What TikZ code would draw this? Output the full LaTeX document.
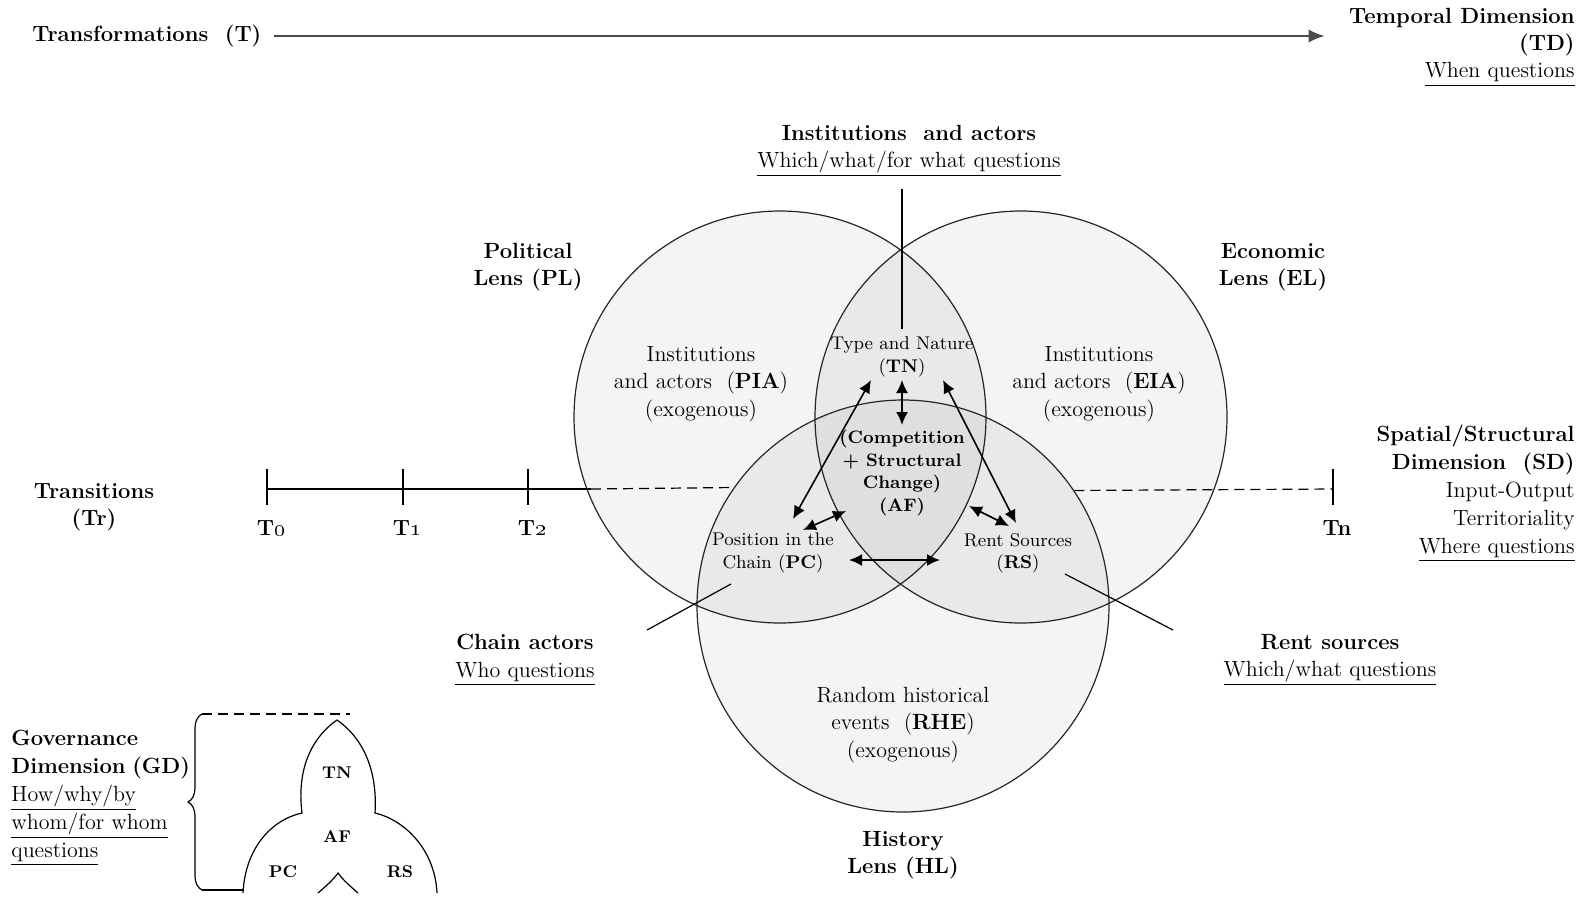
\documentclass[tikz,border=0pt]{standalone}
\usetikzlibrary{arrows.meta,calc,decorations.pathreplacing}
\begin{document}
\begin{tikzpicture}
[x=0.5pt,y=-0.5pt,
  lensdecorate/.style={shape=circle,draw=black!85,line width=0.6pt,fill=black,
    fill opacity=0.045,minimum size=206pt,inner sep=0pt},
  titledecorate/.style={font=\fontsize{11}{13.7}\selectfont\bfseries,align=center,inner sep=1pt},
  textdecorate/.style={font=\fontsize{11}{13.7}\selectfont,align=center,inner sep=1pt},
  sidedecorate/.style={font=\fontsize{11}{14}\selectfont,inner sep=1pt},
  smalldecorate/.style={font=\fontsize{9.2}{11.2}\selectfont,align=center,inner sep=1pt},
  tinydecorate/.style={font=\fontsize{8.5}{10}\selectfont\bfseries,inner sep=1pt},
  linedecorate/.style={-,line width=0.6pt},
  dashdecorate/.style={-,line width=0.6pt,dash pattern=on 5pt off 3pt},
  arrowdecorate/.style={{Latex[length=6.5pt,width=6pt]}-{Latex[length=6.5pt,width=6pt]},line width=0.8pt},
  timedecorate/.style={-{Latex[length=8pt,width=6.5pt]},line width=1pt,draw=black!70}]
\useasboundingbox (0,0) rectangle (1593,896);
%% lenses
\foreach \lensname/\x/\y in {pl/780/417, el/1021/417, hl/903/606}
{
  \node (\lensname) at (\x,\y) [lensdecorate] {};
}
%% temporal dimension
\node (trans) at (30,36) [titledecorate,anchor=west] {Transformations\ \ (T)};
\node (td) at (1577,47) [textdecorate,align=right,anchor=east]
  {\textbf{Temporal Dimension}\\\textbf{(TD)}\\\underline{When questions}};
\draw [timedecorate,shorten <=5pt,shorten >=11pt] (trans.east) -- (trans.east -| td.west);
%% lens titles
\node (polit) at (528,267) [titledecorate] {Political\\Lens (PL)};
\node (econ) at (1273,267) [titledecorate] {Economic\\Lens (EL)};
\node (hist) at (903,855) [titledecorate] {History\\Lens (HL)};
\node (ia) at (909,151) [textdecorate]
  {\textbf{Institutions\ \ and actors}\\\underline{Which/what/for what questions}};
\node (chain) at (525,660) [textdecorate] {\textbf{Chain actors}\\\underline{Who questions}};
\node (rent) at (1330,660) [textdecorate] {\textbf{Rent sources}\\\underline{Which/what questions}};
%% inside the lenses
\node (pia) at (701,384) [textdecorate] {Institutions\\and actors\ \ (\textbf{PIA})\\(exogenous)};
\node (eia) at (1099,384) [textdecorate] {Institutions\\and actors\ \ (\textbf{EIA})\\(exogenous)};
\node (rhe) at (903,725) [textdecorate] {Random historical\\events\ \ (\textbf{RHE})\\(exogenous)};
\node (tn) at (902,357) [smalldecorate] {Type and Nature\\(\textbf{TN})};
\node (af) at (902,473) [smalldecorate,font=\fontsize{9}{11.3}\selectfont\bfseries]
  {(Competition\\+ Structural\\Change)\\(AF)};
\node (pc) at (773,553) [smalldecorate] {Position in the\\Chain (\textbf{PC})};
\node (rs) at (1018,553) [smalldecorate] {Rent Sources\\(\textbf{RS})};
\draw [linedecorate,shorten <=5pt,shorten >=3pt] (ia.south -| tn.north) -- (tn.north);
%% governance arrows
\path
\foreach \startnode/\sx/\sy/\endnode/\ex/\ey in {tn/0/23/af/0/-48,
  tn/-31/23/pc/20/-34, tn/41/23/rs/-2/-30, af/-56/38/pc/30/-23,
  af/67/33/rs/-9/-27, pc/76/7/rs/-78/7}
{
  ($(\startnode)+(\sx,\sy)$) edge[arrowdecorate] ($(\endnode)+(\ex,\ey)$)
};
%% chain actors and rent sources
\coordinate (chainA) at (647,630);
\coordinate (chainB) at (731,584);
\coordinate (rentA) at (1065,574);
\coordinate (rentB) at (1173,630);
\draw [linedecorate] (chainA) -- (chainB);
\draw [linedecorate] (rentA) -- (rentB);
%% transitions
\node (trns) at (94,507) [titledecorate] {Transitions\\(Tr)};
\foreach \tickname/\x/\ticklabel in {t0/267/T\oldstylenums{0}, t1/403/T\oldstylenums{1},
  t2/528/T\oldstylenums{2}, tn/1333/Tn}
{
  \coordinate (\tickname) at (\x,489);
  \draw [linedecorate] ($(\tickname)+(0,-20)$) -- ($(\tickname)+(0,16)$);
  \node at ($(\tickname)+(4,39)$) [titledecorate] {\ticklabel};
}
\coordinate (tsolid) at (591,489);
\draw [linedecorate] (t0) -- (tsolid);
\draw [dashdecorate] (tsolid) -- (hl.145.4);
\draw [dashdecorate] (hl.34.6) -- (tn);
\node (sd) at (1577,493) [sidedecorate,align=right,anchor=east]
  {\textbf{Spatial/Structural}\\\textbf{Dimension\ \ (SD)}\\Input-Output\\Territoriality\\\underline{Where questions}};
%% governance dimension
\node (gd) at (9,798) [sidedecorate,align=left,anchor=west]
  {\textbf{Governance}\\\textbf{Dimension\hspace{0.3em}(GD)}\\\underline{How/why/by}\\\underline{whom/for whom}\\\underline{questions}};
\draw [linedecorate,decorate,decoration={brace,amplitude=7pt}] (202,890) -- (202,714);
\draw [dashdecorate] (202,714) -- (350,714);
\draw [linedecorate] (202,890) -- (243,890);
\draw [linedecorate]
  (243,893) .. controls (245,850) and (270,820) .. (302,813)
  .. controls (296,765) and (315,735) .. (337,720)
  .. controls (359,735) and (378,765) .. (375,813)
  .. controls (405,820) and (435,850) .. (437,893);
\draw [linedecorate]
  (318,893) .. controls (326,886) and (333,880) .. (338,873)
  .. controls (343,880) and (350,886) .. (358,893);
\foreach \lobename/\x/\y in {TN/337/773, AF/337/837, PC/283/872, RS/400/872}
{
  \node at (\x,\y) [tinydecorate] {\lobename};
}
\end{tikzpicture}
\end{document}
